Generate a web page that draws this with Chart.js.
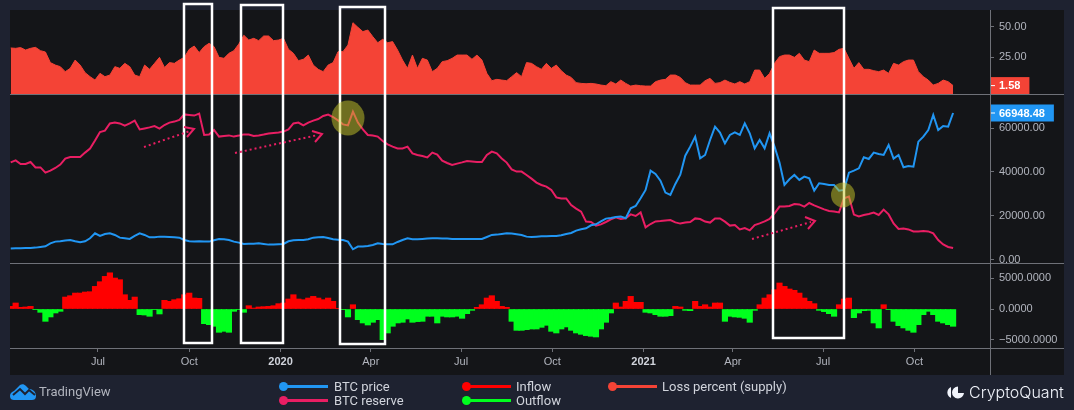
<!DOCTYPE html>
<html lang="en">
  <head>
    <meta charset="UTF-8" />
    <title>BTC reserve, netflow and loss percent</title>
    <script src="https://cdn.jsdelivr.net/npm/chart.js"></script>
    <style>
      html, body { margin: 0; padding: 0; }
      body { position: relative; width: 1074px; height: 410px; overflow: hidden; background: #1e2230; font-family: Roboto, sans-serif; }
      #panel { position: absolute; left: 10px; top: 10px; width: 1054px; height: 365px; background: #141518; }
      canvas { position: absolute; left: 10px; }
      .sep { position: absolute; left: 10px; width: 1054px; height: 1px; background: #6f7178; }
      #axisLine { position: absolute; left: 990px; top: 10px; width: 1px; height: 365px; background: #6f7178; }
      #overlay { position: absolute; left: 0; top: 0; pointer-events: none; }
      .key { position: absolute; font-size: 13px; color: #d1d4dc; line-height: 14px; white-space: nowrap; }
      .swatch { position: absolute; height: 3px; }
      .dot { position: absolute; width: 9px; height: 9px; border-radius: 50%; }
      #tvText { position: absolute; left: 39px; top: 384px; font-size: 13px; line-height: 16px; color: #b2b5be; }
      #cqText { position: absolute; left: 969px; top: 382px; font-size: 16px; line-height: 20px; font-family: Inter, sans-serif; font-weight: 300; color: #f0f3fa; }
    </style>
  </head>
  <body>
    <div id="panel"></div>
    <canvas id="lossChart" width="1054" height="84" style="top: 10px"></canvas>
    <canvas id="priceChart" width="1054" height="169" style="top: 94px"></canvas>
    <canvas id="flowChart" width="1054" height="112" style="top: 263px"></canvas>
    <div class="sep" style="top: 94px"></div>
    <div class="sep" style="top: 263px"></div>
    <div class="sep" style="top: 348px"></div>
    <div id="axisLine"></div>

    <!-- highlight boxes, circles and arrows someone drew over the chart -->
    <svg id="overlay" width="1074" height="410">
      <g fill="none" stroke="#ffffff" stroke-width="2.5">
        <rect x="184" y="4" width="28" height="339" />
        <rect x="241" y="5" width="42" height="338" />
        <rect x="340" y="7" width="45" height="337" />
        <rect x="773" y="8" width="71" height="330" />
      </g>
      <g fill="rgba(200,200,40,0.5)">
        <ellipse cx="348" cy="118" rx="16.5" ry="17.5" />
        <ellipse cx="843" cy="195" rx="12" ry="12.5" />
      </g>
      <g fill="none" stroke="#e91e63" stroke-width="2">
        <path d="M144 147L190 131" stroke-dasharray="2 3" />
        <path d="M184 127L194 129L187 137" />
        <path d="M235 153L318 135" stroke-dasharray="2 3" />
        <path d="M312 131L322 134L315 142" />
        <path d="M752 239L811 222" stroke-dasharray="2 3" />
        <path d="M805 217L815 221L808 229" />
      </g>
    </svg>

    <div class="swatch" style="left: 283px; top: 385px; width: 45px; background: #2196f3"></div>
    <div class="dot" style="left: 279px; top: 382px; background: #2196f3"></div>
    <div class="key" style="left: 334px; top: 380px">BTC price</div>
    <div class="swatch" style="left: 283px; top: 399px; width: 45px; background: #e91e63"></div>
    <div class="dot" style="left: 279px; top: 396px; background: #e91e63"></div>
    <div class="key" style="left: 334px; top: 394px">BTC reserve</div>
    <div class="swatch" style="left: 466px; top: 385px; width: 45px; background: #ff0000"></div>
    <div class="dot" style="left: 462px; top: 382px; background: #ff0000"></div>
    <div class="key" style="left: 516px; top: 380px">Inflow</div>
    <div class="swatch" style="left: 466px; top: 399px; width: 45px; background: #00ff1e"></div>
    <div class="dot" style="left: 462px; top: 396px; background: #00ff1e"></div>
    <div class="key" style="left: 516px; top: 394px">Outflow</div>
    <div class="swatch" style="left: 612px; top: 385px; width: 45px; background: #f44336"></div>
    <div class="dot" style="left: 608px; top: 382px; background: #f44336"></div>
    <div class="key" style="left: 662px; top: 380px">Loss percent (supply)</div>

    <svg style="position: absolute; left: 10px; top: 384px" width="27" height="17">
      <path fill="#2196f3" d="M0 12C0 9 2 8 4 7L10 1C12 0 14 0 16 2L19 5C23 5 26 8 26 12C26 15 24 16 22 16H4C2 16 0 15 0 12Z" />
      <path fill="none" stroke="#1e2230" stroke-width="2" d="M3 11L10 5L15 10L19 6L25 11" />
    </svg>
    <div id="tvText">TradingView</div>
    <svg style="position: absolute; left: 945px; top: 386px" width="20" height="13">
      <path fill="#f0f3fa" d="M6 1A6 6 0 0 0 6 12Z" />
      <path fill="#f0f3fa" d="M13 0.5A6 6 0 1 0 19 7H13Z" />
    </svg>
    <div id="cqText">CryptoQuant</div>

    <script>
      // values, one reading every 5 days, x in days since 1 Jul 2019
      const firstDay = -88;
      const stepDays = 5;

      const lossPercent = [
        32.4, 32.1, 32.7, 30.7, 32.1, 32.9, 30.2, 29.1, 20.4, 18.4, 17.1, 13, 15.7, 22.5, 18.4, 12.2, 8.9, 6.1, 11.6, 8.9,
        10.2, 17.1, 15.7, 19.8, 17.1, 10.2, 8.9, 18.4, 14.9, 19.8, 24.7, 16.5, 20.4, 19.8, 22.5, 24.7, 31.3, 34, 28.6, 33.5,
        36.2, 33.5, 24.7, 23.9, 28, 30.2, 35.7, 42.8, 38.9, 40.3, 38.4, 42.2, 42.2, 38.4, 38.9, 40.3, 31.3, 28, 22, 23.1,
        26.6, 18.4, 14.9, 13, 18.4,
        20.4, 29.4, 29.4, 34.8, 53.1, 49.3, 45.8, 47.1, 41.7, 36.7, 39.5, 36.7, 37.6, 30.7, 22.5, 15.7, 26.6, 15.7, 23.9, 22.5,
        13, 15.7, 21.2, 22, 23.9, 26.6, 26.6, 26.6, 23.1, 26.6, 22.5, 11.6, 5.6, 6.7, 6.1, 5.6, 8.9, 12.2, 8.9, 20.4,
        19.8, 17.1, 14.9, 19.8, 15.7, 18.4, 13.8, 10.2, 8.3, 4, 3.4, 3.1, 3.4, 2.9, 2, 1.5, 4.8, 2.9, 6.1, 3.4,
        1.2, 2, 1.5, 1.2,
        1.2, 4.8, 6.1, 6.7, 10.2, 10.2, 8.3, 4, 2, 2, 2, 5.6, 7.5, 3.4, 4, 6.1, 4.2, 2.9, 4.8, 2.9,
        4.8, 14.3, 14.3, 7.5, 11.6, 19.8, 25.3, 26.6, 26.6, 24.7, 28, 22.5, 21.2, 30.7, 28, 28, 28, 28.6, 31.3, 32.1,
        23.9, 15.7, 20.4, 14.9, 14.9, 13.8, 13, 14.3, 11.6, 19.8, 18.4, 21.2, 22.5, 22.5, 13, 8.9, 6.1, 2, 3.4, 6.1,
        4.8, 1.58,
      ];

      const btcPrice = [
        5000, 5125, 5125, 5280, 5280, 5430, 5730, 6040, 7400, 8170, 8320, 8630, 8930, 8320, 7860, 8320, 9700, 11980, 10760, 11670,
        11980, 11220, 9990, 9690, 9390, 10760, 11980, 11220, 10150, 10150, 10450, 10450, 10300, 10150, 9990, 8930, 8320, 8170, 8320, 8170,
        8170, 8780, 9390, 9240, 8930, 8170, 7710, 7100, 7250, 7250, 7410, 7100, 6800, 6800, 6950, 7100, 8320, 8780, 8930, 8930,
        9240, 9990, 10150, 10300, 9850,
        9240, 9080, 8930, 8170, 4670, 5890, 5890, 6190, 6650, 7410, 7100, 6950, 6950, 8020, 8930, 9690, 9240, 9240, 9390, 9540,
        9690, 9690, 9540, 9540, 9390, 9390, 9390, 9390, 9390, 9390, 9390, 10300, 11220, 11370, 11670, 11980, 11830, 11520, 11220, 10450,
        10300, 10450, 10610, 10610, 10760, 10760, 11060, 11670, 12130, 13200, 13810, 14260, 15630, 16090, 17460, 18680, 18980, 19440, 19600, 18830,
        23400, 24460, 27970, 31780,
        40610, 39090, 36040, 30560, 29490, 34520, 38780, 47460, 51580, 56150, 46250, 47770, 54620, 60710, 57970, 53100, 56910, 58120, 56910, 62240,
        57670, 50810, 54620, 50810, 57670, 51580, 44270, 34060, 36650, 38630, 36350, 37870, 37110, 31470, 34820, 34520, 34060, 34060, 31470, 31780,
        39700, 40610, 41680, 46700, 45940, 48830, 48230, 47770, 52340, 46090, 47770, 42130, 42740, 42440, 53860, 56150, 59190, 66050, 59190, 61020,
        60710, 66948.48,
      ];

      // thousand BTC, the reference hides this axis so the level is only relative
      const btcReserve = [
        2688, 2698, 2680, 2680, 2690, 2663, 2663, 2637, 2647, 2660, 2677, 2707, 2715, 2715, 2715, 2737, 2757, 2797, 2840, 2847,
        2883, 2888, 2883, 2872, 2883, 2897, 2853, 2858, 2863, 2870, 2857, 2875, 2887, 2892, 2900, 2928, 2925, 2922, 2932, 2825,
        2827, 2850, 2817, 2820, 2823, 2817, 2822, 2828, 2827, 2820, 2823, 2827, 2832, 2835, 2838, 2842, 2853, 2883, 2887, 2873,
        2887, 2897, 2905, 2920, 2927,
        2915, 2898, 2878, 2873, 2942, 2887, 2853, 2825, 2822, 2817, 2795, 2778, 2767, 2758, 2758, 2767, 2733, 2725, 2720, 2713,
        2737, 2727, 2697, 2685, 2675, 2682, 2688, 2695, 2693, 2690, 2690, 2725, 2742, 2733, 2708, 2687, 2653, 2642, 2642, 2625,
        2607, 2587, 2575, 2567, 2550, 2513, 2508, 2508, 2475, 2457, 2442, 2392, 2390, 2372, 2378, 2390, 2403, 2413, 2405, 2408,
        2428, 2420, 2438, 2363,
        2380, 2393, 2395, 2398, 2400, 2388, 2382, 2387, 2390, 2408, 2405, 2392, 2387, 2408, 2408, 2392, 2372, 2375, 2353, 2360,
        2348, 2375, 2383, 2393, 2405, 2433, 2467, 2467, 2470, 2480, 2478, 2467, 2485, 2473, 2463, 2453, 2445, 2442, 2438, 2508,
        2517, 2427, 2418, 2425, 2430, 2437, 2425, 2452, 2428, 2383, 2355, 2357, 2353, 2343, 2343, 2345, 2343, 2333, 2300, 2278,
        2265, 2260,
      ];

      const netflow = [
        430, 980, 270, 330, 430, -110, -540, -2010, -1300, -650, -380, 1950, 2170, 2600, 2600, 2770, 2820, 3690, 4450, 5320,
        5900, 5050, 4780, 2330, 1410, 1950, -920, -980, -1190, -110, -810, 1410, 1250, 1520, 1680, 2330, 2600, 1790, 1740, -2390,
        -2550, -2820, -3800, -3640, -3800, -380, -110, -540, 540, 160, 330, 380, 430, 540, 870, 980, 1630, 2330, 1630, 1520,
        1790, 2060, 1790, 1520, 1790, 1250, 110, -110, -1300, 700, -1740, -2280, -2610, -2170, -1740, -5000, -3910, -2820, -2280, -2170,
        -1630, -2170, -2060, -2010, -1190, -1190, -2280, -1190, -1300, -1300, -1190, -1520, -760, -220, 270, 700, 1790, 2170, 1250, 430,
        270, -2010, -3480, -3480, -3370, -3260, -3260, -2990, -2660, -3640, -3910, -3260, -2930, -3480, -3910, -4130, -4340, -4450, -4560, -3260,
        -2170, -650, 980, 330, 1250, 2060, 1090, 1090, -540, -650, -920, -1190, -1190, -1090, 430, 330, -220, -270, 1250, 430,
        700, 330, 980, 980, -2010, -1190, -1300, -1360, -1520, -2170, -220, 700, 1790, 2330, 3150, 4240, 3690, 3260, 3040, 2600,
        1790, 1250, 870, -220, -430, -760, -1190, 700, 1630, 1790, -1410, -650, -270, -220, -2280, -3090, 700, -110, -2010, -2710,
        -3090, -3480, -3800, -2550, -920, -380, -920, -2010, -2280, -2550, -2820,
      ];

      const xTickDays = [0, 92, 184, 275, 366, 458, 550, 640, 731, 823];
      const xTickLabels = ["Jul", "Oct", "2020", "Apr", "Jul", "Oct", "2021", "Apr", "Jul", "Oct"];
      const lossTicks = [25, 50];
      const priceTicks = [0, 20000, 40000, 60000];
      const flowTicks = [-5000, 0, 5000];

      const days = lossPercent.map((v, i) => firstDay + i * stepDays);
      const inflow = netflow.map((v) => (v > 0 ? v : null));
      const outflow = netflow.map((v) => (v < 0 ? v : null));

      const fontFamily = "'Liberation Sans', sans-serif";
      const tickColor = "#b2b5be";
      const lineColor = "#6f7178";

      // coloured price tag on the right axis, at the last value of the series
      const lastValueTag = {
        id: "lastValueTag",
        afterDraw(chart, args, opts) {
          const scale = chart.scales[opts.axis];
          const ctx = chart.ctx;
          const y = scale.getPixelForValue(opts.value);
          const label = opts.value.toFixed(2);
          const left = chart.chartArea.right;
          ctx.save();
          ctx.font = "bold 11px " + fontFamily;
          const w = ctx.measureText(label).width + 17;
          ctx.fillStyle = opts.color;
          ctx.fillRect(left + 1, y - 8.5, w, 17);
          ctx.fillStyle = "#ffffff";
          ctx.fillRect(left + 1, y - 0.5, 4, 1);
          ctx.textBaseline = "middle";
          ctx.fillText(label, left + 9, y + 0.5);
          ctx.restore();
        },
      };

      function xAxis(visible) {
        return {
          type: "linear",
          display: visible,
          offset: false,
          min: -88.7,
          max: 899.2,
          grid: { offset: false, drawOnChartArea: false, drawTicks: true, tickLength: 4, color: lineColor },
          border: { display: false },
          afterBuildTicks(axis) {
            axis.ticks = xTickDays.map((d) => ({ value: d }));
          },
          afterFit(axis) {
            if (visible) axis.height = 27;
            axis.paddingLeft = 0;
            axis.paddingRight = 0;
          },
          ticks: {
            autoSkip: false,
            maxRotation: 0,
            padding: 3,
            color: (c) => (c.index === 2 || c.index === 6 ? "#d1d4dc" : tickColor),
            font: (c) => ({ family: fontFamily, size: 11, weight: c.index === 2 || c.index === 6 ? "bold" : "normal" }),
            callback: (v, i) => xTickLabels[i],
          },
        };
      }

      function yAxis(min, max, tickValues, decimals) {
        return {
          position: "right",
          min: min,
          max: max,
          grid: { drawOnChartArea: false, drawTicks: true, tickLength: 4, color: lineColor },
          border: { display: false },
          afterBuildTicks(axis) {
            axis.ticks = tickValues.map((v) => ({ value: v }));
          },
          afterFit(axis) {
            // no room kept for half a label, the pane has to fill its canvas
            axis.width = 74;
            axis.paddingTop = 0;
            axis.paddingBottom = 0;
          },
          ticks: {
            padding: 5,
            color: tickColor,
            font: { family: fontFamily, size: 11 },
            callback: (v) => v.toFixed(decimals).replace("-", "\u2212"),
          },
        };
      }

      const baseOptions = {
        responsive: false,
        animation: false,
        events: [],
        layout: { padding: 0 },
        plugins: { legend: { display: false }, tooltip: { enabled: false } },
      };

      new Chart(document.getElementById("lossChart"), {
        type: "line",
        data: {
          labels: days,
          datasets: [
            {
              label: "Loss percent (supply)",
              data: lossPercent,
              yAxisID: "y",
              fill: "start",
              backgroundColor: "#f44336",
              borderColor: "#f44336",
              borderWidth: 1,
              pointRadius: 0,
            },
          ],
        },
        options: {
          ...baseOptions,
          plugins: { ...baseOptions.plugins, lastValueTag: { axis: "y", value: lossPercent[lossPercent.length - 1], color: "#f44336" } },
          scales: { x: xAxis(false), y: yAxis(-5.3, 63.5, lossTicks, 2) },
        },
        plugins: [lastValueTag],
      });

      new Chart(document.getElementById("priceChart"), {
        type: "line",
        data: {
          labels: days,
          datasets: [
            { label: "BTC price", data: btcPrice, yAxisID: "y", borderColor: "#2196f3", borderWidth: 2, pointRadius: 0 },
            { label: "BTC reserve", data: btcReserve, yAxisID: "yReserve", borderColor: "#e91e63", borderWidth: 2, pointRadius: 0 },
          ],
        },
        options: {
          ...baseOptions,
          plugins: { ...baseOptions.plugins, lastValueTag: { axis: "y", value: btcPrice[btcPrice.length - 1], color: "#2196f3" } },
          scales: {
            x: xAxis(false),
            y: yAxis(-1600, 75630, priceTicks, 2),
            yReserve: { axis: "y", position: "right", display: false, min: 2185, max: 3030 },
          },
        },
        plugins: [lastValueTag],
      });

      new Chart(document.getElementById("flowChart"), {
        type: "bar",
        data: {
          labels: days,
          datasets: [
            { label: "Inflow", data: inflow, backgroundColor: "#ff0000", barThickness: 5.5, grouped: false },
            { label: "Outflow", data: outflow, backgroundColor: "#00ff1e", barThickness: 5.5, grouped: false },
          ],
        },
        options: {
          ...baseOptions,
          scales: { x: xAxis(true), y: yAxis(-6357, 7498, flowTicks, 4) },
        },
      });
    </script>
  </body>
</html>
